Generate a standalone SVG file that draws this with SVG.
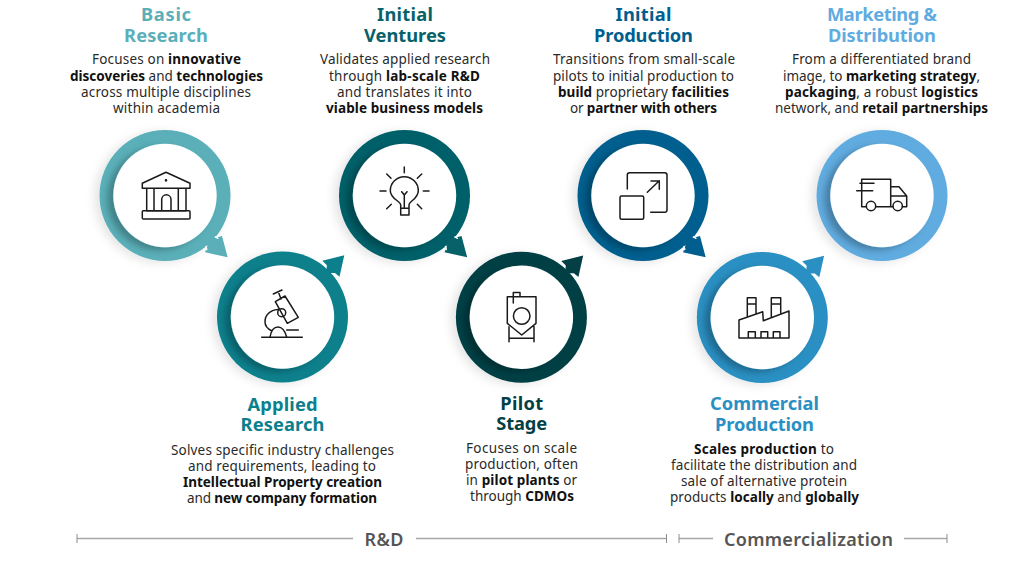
<svg xmlns="http://www.w3.org/2000/svg" width="1024" height="563" viewBox="0 0 1024 563">
<style>
text{font-family:"Noto Sans","Open Sans","Liberation Sans",sans-serif;text-anchor:middle}
.t{font-size:18.3px;font-weight:700}
.b{font-size:13.5px;fill:#2a2a2a;font-weight:400}
.b tspan{font-weight:700;fill:#111}
.ic{fill:none;stroke:#1a1a1a;stroke-width:1.5;stroke-linecap:round;stroke-linejoin:round}
.o{filter:url(#so)}
.i{fill:#fff;filter:url(#si)}
.ax{stroke:#a8a8a8;stroke-width:1.6;fill:none}
.tk{stroke:#8c8c8c;stroke-width:1;fill:none}
.ph{font-size:18px;font-weight:600;fill:#555}
</style>
<defs>
<filter id="so" x="-30%" y="-30%" width="160%" height="160%"><feDropShadow dx="-5" dy="2" stdDeviation="5" flood-color="#000" flood-opacity=".1"/></filter>
<filter id="si" x="-30%" y="-30%" width="160%" height="160%"><feDropShadow dx="-6" dy="3" stdDeviation="3" flood-color="#000" flood-opacity=".26"/></filter>
<g id="hd"><polygon points="62.7 61.8 57 40.5 51.7 42 44 44 41.7 52.8 40 56.8" fill="currentColor"/><path d="M50.3 41.4 53 42.8M41 51 41.8 54" stroke="#fff" stroke-width="1.4" stroke-linecap="round" fill="none"/></g>
<g id="hu"><polygon points="61.8 -61.7 57 -40.3 52.5 -44 44 -44 44.2 -52 39.8 -56.3" fill="currentColor"/><path d="M51.3 -42.5 53.5 -40.5M43.5 -50.5 42 -52.5" stroke="#fff" stroke-width="1.4" stroke-linecap="round" fill="none"/></g>
</defs>

<g id="n1"><circle class="o" cx="165" cy="195.5" r="65.5" fill="#5aafb8"/><circle class="i" cx="165" cy="195.5" r="51.7"/>
<g class="ic"><path d="M142.3 188.3V183.3L166 172.3 190 183.3V188.3ZM146.7 188.3V210.7M154 188.3V210.7M178.3 188.3V210.7M186 188.3V210.7M161.7 210.7V199.5a4.65 4.65 0 0 1 9.3 0V210.7M146.7 210.7H186"/><rect x="142.3" y="210.7" width="47.7" height="8.3" rx="1"/><circle cx="166" cy="180.3" r=".6"/></g>
<text class="t" fill="#5aafb8"><tspan x="166" y="21" textLength="50">Basic</tspan><tspan x="166" y="42" textLength="84">Research</tspan></text>
<text class="b" x="166.5" y="64" textLength="149">Focuses on <tspan>innovative</tspan></text>
<text class="b" x="166.5" y="80.7" textLength="193"><tspan>discoveries</tspan> and <tspan>technologies</tspan></text>
<text class="b" x="166" y="97" textLength="170">across multiple disciplines</text>
<text class="b" x="166.5" y="113.3" textLength="107">within academia</text></g>

<g id="n2"><circle class="o" cx="282.5" cy="317" r="65.5" fill="#0b808c"/><circle class="i" cx="282.5" cy="317" r="51.7"/>
<g class="ic"><path d="M261.7 337.3H302.3M286.7 330H298.3M270 337C271 331 274 327 278 327S285 331 286.7 337M278 309.5C270 310 265 315 265 321.7 265 325.5 268 329 271.7 330.7M285 296 298.3 317.3 287.3 323.3 275.3 301.7ZM278.3 291.7 281 299M273.3 294 282 290"/><circle cx="281.7" cy="312.7" r="4"/></g>
<text class="t" fill="#0b808c"><tspan x="282.5" y="411" textLength="70">Applied</tspan><tspan x="282.5" y="431" textLength="84">Research</tspan></text>
<text class="b" x="282.5" y="455" textLength="223">Solves specific industry challenges</text>
<text class="b" x="282" y="471" textLength="188">and requirements, leading to</text>
<text class="b" x="282.5" y="487" textLength="199"><tspan>Intellectual Property creation</tspan></text>
<text class="b" x="282" y="503" textLength="190">and <tspan>new company formation</tspan></text></g>

<g id="n3"><circle class="o" cx="404.5" cy="195.5" r="65.5" fill="#066169"/><circle class="i" cx="404.5" cy="195.5" r="51.7"/>
<g class="ic"><path d="M400.7 208.3V205C400.7 201 390.3 199 390.3 190.7a14 14 0 1 1 28 0C418.3 199 409 201 409 205V208.3ZM400.7 208.3V215H409V208.3M401.7 191.7 404.3 195 407 191.7M404.3 195V208M404.3 167V172.7M380 191H386M423.3 191H429M386.7 174 391 178.3M421.7 174 417.3 178.3M386.7 208.7 391.3 204.3M421.7 208.7 417.3 204.3"/></g>
<text class="t" fill="#066169"><tspan x="405" y="21" textLength="56">Initial</tspan><tspan x="405" y="42" textLength="82">Ventures</tspan></text>
<text class="b" x="405" y="64" textLength="170">Validates applied research</text>
<text class="b" x="404.5" y="80.7" textLength="151">through <tspan>lab-scale R&amp;D</tspan></text>
<text class="b" x="404.5" y="97" textLength="135">and translates it into</text>
<text class="b" x="404.5" y="113.3" textLength="157"><tspan>viable business models</tspan></text></g>

<g id="n4"><circle class="o" cx="521.4" cy="317.3" r="65.5" fill="#043f45"/><circle class="i" cx="521.4" cy="317.3" r="51.7"/>
<g class="ic"><path d="M507.3 296.7H536V323.3L521.7 335 507.3 323.3ZM513.3 296.7V292.5H520V296.7M513.3 296.7V303M509 326.7V341.7M534 326.7V341.7M509 338.3H534"/><circle cx="521.7" cy="316" r="8.3"/></g>
<text class="t" fill="#043f45"><tspan x="521.7" y="409.5" textLength="43">Pilot</tspan><tspan x="521.7" y="430" textLength="51">Stage</tspan></text>
<text class="b" x="521.5" y="452.5" textLength="111">Focuses on scale</text>
<text class="b" x="521.5" y="469" textLength="113">production, often</text>
<text class="b" x="521.5" y="485" textLength="111">in <tspan>pilot plants</tspan> or</text>
<text class="b" x="522" y="501" textLength="104">through <tspan>CDMOs</tspan></text></g>

<g id="n5"><circle class="o" cx="643" cy="195.5" r="65.5" fill="#005f8e"/><circle class="i" cx="643" cy="195.5" r="51.7"/>
<g class="ic"><rect x="620" y="196" width="23.7" height="23.3" rx="1.5"/><path d="M627.3 189V175A2.3 2.3 0 0 1 629.6 172.7H664.7A2.3 2.3 0 0 1 667 175V210A2.3 2.3 0 0 1 664.7 212.3H650.7M647.3 192.3 659.3 180.7M651 181H659.3V189.3"/></g>
<text class="t" fill="#005f8e"><tspan x="643.5" y="21" textLength="56">Initial</tspan><tspan x="643.5" y="42" textLength="99">Production</tspan></text>
<text class="b" x="644" y="64" textLength="182">Transitions from small-scale</text>
<text class="b" x="643.5" y="80.7" textLength="181">pilots to initial production to</text>
<text class="b" x="643.5" y="97" textLength="171"><tspan>build</tspan> proprietary <tspan>facilities</tspan></text>
<text class="b" x="643.5" y="113.3" textLength="147">or <tspan>partner with others</tspan></text></g>

<g id="n6"><circle class="o" cx="762.3" cy="317.5" r="65.5" fill="#2a8fc2"/><circle class="i" cx="762.3" cy="317.5" r="51.7"/>
<g class="ic"><path d="M739 338V320L762.7 311.7 763.3 320.7 789 311V338ZM747.3 316V297.7H756V313M747.3 304H756M771.3 317V297.7H780.7V313M771.3 304H780.7M748.3 338V331.7H755.3V338M761 338V331.7H767.7V338M773.3 338V331.7H780V338"/></g>
<text class="t" fill="#2a8fc2"><tspan x="764.5" y="410" textLength="109">Commercial</tspan><tspan x="764.5" y="430.5" textLength="99">Production</tspan></text>
<text class="b" x="764" y="453.5" textLength="140"><tspan>Scales production</tspan> to</text>
<text class="b" x="764" y="470" textLength="186">facilitate the distribution and</text>
<text class="b" x="764" y="486" textLength="166">sale of alternative protein</text>
<text class="b" x="764.5" y="502" textLength="189">products <tspan>locally</tspan> and <tspan>globally</tspan></text></g>

<g id="n7"><circle class="o" cx="882" cy="195.5" r="65.5" fill="#60abdf"/><circle class="i" cx="882" cy="195.5" r="51.7"/>
<g class="ic"><path d="M861.7 179.3H890.7V206.7M861.7 179.3V206.7H866.3M860 183.3H874M856.7 190.7H872.7M890.7 186.7H899L906.7 196V206.7H902.4M890.7 196H906.7M875.7 206.7H893"/><circle cx="871" cy="206" r="4.7"/><circle cx="897.7" cy="206" r="4.7"/></g>
<text class="t" fill="#60abdf"><tspan x="882" y="21" textLength="110">Marketing &amp;</tspan><tspan x="882" y="42" textLength="108">Distribution</tspan></text>
<text class="b" x="881.5" y="64" textLength="179">From a differentiated brand</text>
<text class="b" x="881.5" y="80.7" textLength="197">image, to <tspan>marketing strategy</tspan>,</text>
<text class="b" x="881.5" y="97" textLength="193"><tspan>packaging</tspan>, a robust <tspan>logistics</tspan></text>
<text class="b" x="881.5" y="113.3" textLength="213">network, and <tspan>retail partnerships</tspan></text></g>

<g id="connectors">
<use href="#hd" x="165" y="195.5" style="color:#5aafb8"/>
<use href="#hu" x="282.5" y="317" style="color:#0b808c"/>
<use href="#hd" x="404.5" y="195.5" style="color:#066169"/>
<use href="#hu" x="521.4" y="317.3" style="color:#043f45"/>
<use href="#hd" x="643" y="195.5" style="color:#005f8e"/>
<use href="#hu" x="762.3" y="317.5" style="color:#2a8fc2"/>
</g>

<g id="phases">
<path class="ax" d="M77 538.5H353M416 538.5H666M679 538.5H713M904 538.5H947"/>
<path class="tk" d="M77 534V543M666.5 534V543M679 534V543M947 534V543"/>
<text class="ph" x="384" y="545.5" textLength="39">R&amp;D</text>
<text class="ph" x="808.5" y="545.5" textLength="169">Commercialization</text>
</g>
</svg>
